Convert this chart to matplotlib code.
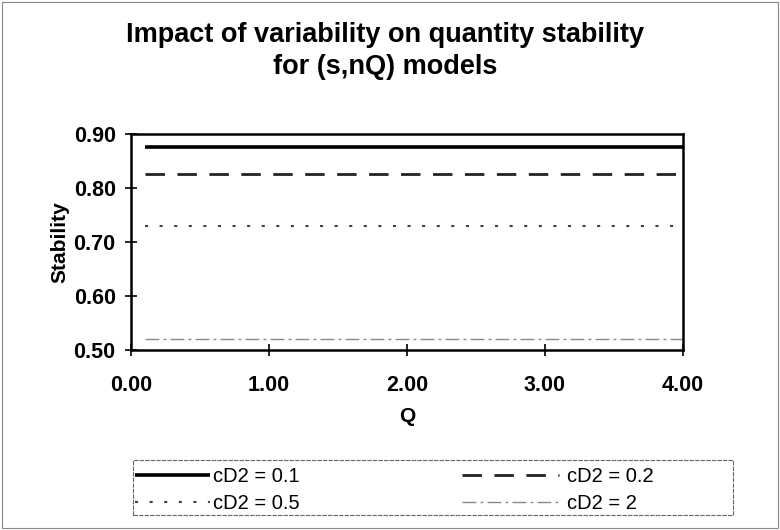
import numpy as np
import matplotlib.pyplot as plt
from matplotlib.patches import Rectangle

#data
Q = [0.1, 0.5, 1.0, 1.5, 2.0, 2.5, 3.0, 3.5, 4.0]
stab_01 = [0.875, 0.875, 0.875, 0.875, 0.875, 0.875, 0.875, 0.875, 0.875]
stab_02 = [0.825, 0.825, 0.825, 0.825, 0.825, 0.825, 0.825, 0.825, 0.825]
stab_05 = [0.730, 0.730, 0.730, 0.730, 0.730, 0.730, 0.730, 0.730, 0.730]
stab_2 = [0.520, 0.520, 0.520, 0.520, 0.520, 0.520, 0.520, 0.520, 0.520]
labels = ["cD2 = 0.1", "cD2 = 0.2", "cD2 = 0.5", "cD2 = 2"]
xticks = [0.0, 1.0, 2.0, 3.0, 4.0]
yticks = [0.5, 0.6, 0.7, 0.8, 0.9]

plt.rcParams['font.family'] = ['Liberation Sans', 'DejaVu Sans']

W, H = 780, 530
fig = plt.figure(figsize=(7.8, 5.3), dpi=100)
ax = fig.add_axes([131/W, 1-350/H, (683-131)/W, (350-134)/H])

l1, = ax.plot(Q, stab_01, color='black', lw=2.6, solid_capstyle='butt')
l2, = ax.plot(Q, stab_02, color='#222222', lw=2.0, dashes=(7, 4.5))
l3, = ax.plot(Q, stab_05, color='#444444', lw=1.5, dashes=(1.5, 5.5))
l4, = ax.plot(Q, stab_2, color='#8a8a8a', lw=1.0, dashes=(10, 3, 2, 3))

ax.set_xlim(0, 4)
ax.set_ylim(0.5, 0.9)
ax.set_xticks(xticks)
ax.set_yticks(yticks)
ax.set_xticklabels(["{0:.2f}".format(v) for v in xticks])
ax.set_yticklabels(["{0:.2f}".format(v) for v in yticks])
ax.tick_params(direction='inout', length=8, width=1.2, labelsize=15.5)
ax.tick_params(axis='x', pad=14)
ax.tick_params(axis='y', pad=7)
for lab in ax.get_xticklabels() + ax.get_yticklabels():
    lab.set_fontweight('bold')
for s in ax.spines.values():
    s.set_linewidth(1.8)

ax.set_xlabel('Q', fontsize=15, fontweight='bold', labelpad=8)
ax.set_ylabel('Stability', fontsize=15, fontweight='bold', labelpad=3)

fig.text(385/W, 1-35/H, 'Impact of variability on quantity stability',
         ha='center', va='center', fontsize=19.5, fontweight='bold')
fig.text(385/W, 1-67/H, 'for (s,nQ) models',
         ha='center', va='center', fontsize=19.5, fontweight='bold')

#legend, two columns placed separately
fig.patches.append(Rectangle((133/W, 1-515/H), 600/W, 55/H, transform=fig.transFigure,
                             fill=False, edgecolor='#666666', lw=0.8, ls=(0, (4, 1))))
fig.legend([l1, l3], [labels[0], labels[2]],
           loc='upper left', bbox_to_anchor=(135/W, 1-467/H),
           frameon=False, fontsize=14.5, handlelength=3.7, handletextpad=0.15,
           labelspacing=0.4, borderpad=0, borderaxespad=0)
fig.legend([l2, l4], [labels[1], labels[3]],
           loc='upper left', bbox_to_anchor=(462/W, 1-467/H),
           frameon=False, fontsize=14.5, handlelength=4.8, handletextpad=0.4,
           labelspacing=0.4, borderpad=0, borderaxespad=0)

#outer border
fig.patches.append(Rectangle((0.002, 0.003), 0.995, 0.994, transform=fig.transFigure,
                             fill=False, edgecolor='#888888', lw=0.8))

plt.savefig("out.png", dpi=100)
